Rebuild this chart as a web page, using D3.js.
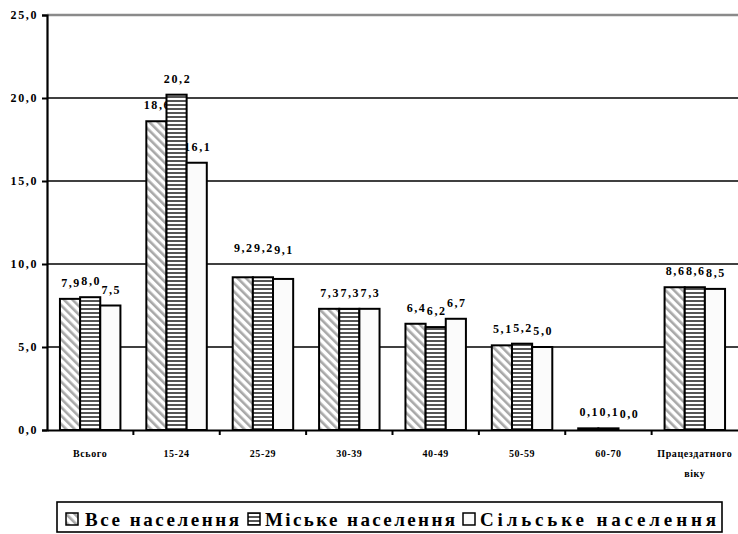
<!DOCTYPE html>
<html>
<head>
<meta charset="utf-8">
<script src="https://cdn.jsdelivr.net/npm/d3@7"></script>
<style>
  html, body { margin: 0; padding: 0; background: #fff; }
  svg { display: block; }
  svg text { font-family: "Liberation Serif", "Times New Roman", serif; font-weight: bold; fill: #000; }
</style>
</head>
<body>
<svg id="chart" width="738" height="534"></svg>
<script>
const categories = ["Всього", "15-24", "25-29", "30-39", "40-49", "50-59", "60-70", "Працездатного віку"];
const seriesNames = ["Все населення", "Міське населення", "Сільське населення"];
const allPop   = [7.9, 18.6, 9.2, 7.3, 6.4, 5.1, 0.1, 8.6];
const urbanPop = [8.0, 20.2, 9.2, 7.3, 6.2, 5.2, 0.1, 8.6];
const ruralPop = [7.5, 16.1, 9.1, 7.3, 6.7, 5.0, 0.0, 8.5];
const yTicks = [0, 5, 10, 15, 20, 25];

const seriesValues = [allPop, urbanPop, ruralPop];
const fmt = v => v.toFixed(1).replace(".", ",");

// layout-only tweaks (label placement as in the original)
const labelExtraLift = { "25-29": 13 };

const svg = d3.select("#chart");
const plotLeft = 47, plotRight = 738, plotTop = 15, plotBottom = 430;

// patterns
const defs = svg.append("defs");
const pDiag = defs.append("pattern").attr("id", "pat0").attr("patternUnits", "userSpaceOnUse")
  .attr("width", 6).attr("height", 6).attr("patternTransform", "rotate(-45)");
pDiag.append("rect").attr("width", 6).attr("height", 6).attr("fill", "#fff");
pDiag.append("rect").attr("x", 0).attr("width", 2.6).attr("height", 6).attr("fill", "#a8a8a8");

const pHor = defs.append("pattern").attr("id", "pat1").attr("patternUnits", "userSpaceOnUse")
  .attr("width", 4).attr("height", 4);
pHor.append("rect").attr("width", 4).attr("height", 4).attr("fill", "#fff");
pHor.append("rect").attr("y", 0).attr("width", 4).attr("height", 2).attr("fill", "#555");

const pWhite = defs.append("pattern").attr("id", "pat2").attr("patternUnits", "userSpaceOnUse")
  .attr("width", 4).attr("height", 4);
pWhite.append("rect").attr("width", 4).attr("height", 4).attr("fill", "#fbfbfb");

const fills = ["url(#pat0)", "url(#pat1)", "url(#pat2)"];

const x = d3.scaleBand().domain(categories).range([plotLeft, plotRight]).paddingInner(0.3).paddingOuter(0.15);
const xs = d3.scaleBand().domain(d3.range(3)).range([0, x.bandwidth()]);
const y = d3.scaleLinear().domain([0, 25]).range([plotBottom, plotTop]);

// gridlines
svg.append("g").selectAll("line").data(yTicks.filter(t => t > 0)).join("line")
  .attr("x1", plotLeft).attr("x2", plotRight)
  .attr("y1", d => y(d)).attr("y2", d => y(d))
  .attr("stroke", d => d === 25 ? "#8a8a8a" : "#000")
  .attr("stroke-width", d => d === 25 ? 2.5 : 1.6);

// y axis
const yAxis = d3.axisLeft(y).tickValues(yTicks).tickSize(5).tickPadding(4).tickFormat(fmt);
const gy = svg.append("g").attr("transform", `translate(${plotLeft},0)`).call(yAxis);
gy.attr("font-family", null).attr("font-size", null);
gy.select(".domain").attr("stroke", "#000").attr("stroke-width", 2.2);
gy.selectAll(".tick line").attr("stroke-width", 2);
gy.selectAll(".tick text").style("font-size", "12px").style("letter-spacing", "1.6px");

// data labels (drawn under bars)
const labels = svg.append("g");
categories.forEach((c, i) => {
  seriesValues.forEach((vals, s) => {
    labels.append("text")
      .attr("x", x(c) + xs(s) + xs.bandwidth() / 2 + 1)
      .attr("y", y(vals[i]) - 12 - (labelExtraLift[c] || 0))
      .attr("text-anchor", "middle")
      .style("font-size", "12px")
      .style("letter-spacing", "1.6px")
      .text(fmt(vals[i]));
  });
});

// bars
const bars = svg.append("g");
categories.forEach((c, i) => {
  seriesValues.forEach((vals, s) => {
    const h = Math.max(plotBottom - y(vals[i]), 0);
    bars.append("rect")
      .attr("x", x(c) + xs(s))
      .attr("y", y(vals[i]))
      .attr("width", xs.bandwidth())
      .attr("height", h)
      .attr("fill", fills[s])
      .attr("stroke", "#000")
      .attr("stroke-width", 2);
  });
});

// x axis
const xAxis = d3.axisBottom(x).tickSize(0).tickFormat("");
const gx = svg.append("g").attr("transform", `translate(0,${plotBottom})`).call(xAxis);
gx.select(".domain").attr("stroke", "#000").attr("stroke-width", 2.2);
gx.selectAll(".tick").remove();
const step = x.step();
const bounds = d3.range(1, categories.length).map(k => plotLeft + step * k);
gx.selectAll(".bt").data(bounds).join("line").attr("class", "bt")
  .attr("x1", d => d).attr("x2", d => d).attr("y1", 0).attr("y2", 5)
  .attr("stroke", "#000").attr("stroke-width", 2);

// category labels
categories.forEach(c => {
  const cx = x(c) + x.bandwidth() / 2;
  const parts = c === "Працездатного віку" ? ["Працездатного", "віку"] : [c];
  parts.forEach((p, k) => {
    svg.append("text").attr("x", cx).attr("y", 457 + k * 20)
      .attr("text-anchor", "middle").style("font-size", "10px")
      .style("letter-spacing", "0.6px")
      .text(p);
  });
});

// legend
const lg = svg.append("g");
lg.append("rect").attr("x", 57).attr("y", 502).attr("width", 665).attr("height", 30)
  .attr("fill", "#fff").attr("stroke", "#000").attr("stroke-width", 1.6);
const legendItems = [
  { sx: 66, tx: 85, tl: 154 },
  { sx: 248, tx: 265, tl: 190 },
  { sx: 463, tx: 480, tl: 236 }
];
seriesNames.forEach((n, s) => {
  const it = legendItems[s];
  lg.append("rect").attr("x", it.sx).attr("y", 513).attr("width", 12).attr("height", 12)
    .attr("fill", fills[s]).attr("stroke", "#000").attr("stroke-width", 1.5);
  lg.append("text").attr("x", it.tx).attr("y", 526).style("font-size", "19px")
    .attr("textLength", it.tl).attr("lengthAdjust", "spacing")
    .text(n);
});
</script>
</body>
</html>
